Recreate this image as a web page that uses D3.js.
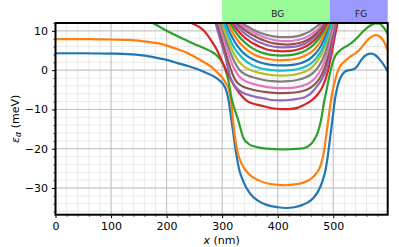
<!DOCTYPE html>
<html><head><meta charset="utf-8">
<script src="https://cdn.jsdelivr.net/npm/d3@7/dist/d3.min.js"></script>
<style>
html,body{margin:0;padding:0;background:#fff;}
svg{display:block;font-family:"DejaVu Sans",sans-serif;}
</style></head>
<body><svg id="c" width="399" height="247"></svg>
<script>
// ---- data ----
const xTicks = [0, 100, 200, 300, 400, 500];
const yTicks = [-30, -20, -10, 0, 10];
const xDomain = [0, 598];
const yDomain = [-36.8, 12];
const regionNames = ["BG", "FG"];
const regionStart = [300, 494];
const regionEnd = [494, 598];
const regionLabelX = [400, 550];
const regionColors = ["#98fb98", "#9999ff"];
const seriesColors = ["#1f77b4","#ff7f0e","#2ca02c","#d62728","#9467bd","#8c564b","#e377c2","#7f7f7f","#bcbd22","#17becf"];

const s01 = [[0,4.3],[50,4.3],[100,4.2],[130,4.1],[160,3.7],[180,3.2],[200,2.6],[220,1.8],[240,1.0],[255,0.3],[270,-0.6],[285,-1.6],[295,-2.6],[302,-3.6],[308,-5.5],[312,-8],[316,-12],[320,-16],[325,-21],[331,-25.5],[338,-28.3],[350,-31.4],[365,-33.3],[380,-34.3],[400,-34.9],[415,-35.1],[430,-34.9],[445,-34.3],[455,-33.6],[465,-32.4],[473,-30.8],[480,-28.5],[486,-25.5],[491,-21],[495,-16.5],[499,-12],[503,-7.5],[508,-4],[514,-1.6],[520,-0.5],[528,0],[536,0.2],[542,0.8],[551,2.7],[560,3.9],[568,4.2],[576,3.8],[587,2.1],[598,-0.3]];
const s02 = [[0,7.9],[60,7.9],[100,7.8],[134,7.7],[160,7.3],[195,6.5],[220,5.3],[240,4.2],[254,3.1],[270,1.8],[280,0.9],[290,-0.4],[300,-1.9],[307,-3.4],[312,-5],[316,-8],[319,-12],[323,-17],[328,-21],[335,-23.8],[350,-26.7],[365,-28],[380,-28.8],[400,-29.2],[415,-29.3],[430,-29.1],[445,-28.7],[455,-28.1],[465,-27],[472,-25.8],[478,-24],[483,-21],[487,-17],[491,-12.7],[495,-8.5],[500,-4.5],[506,-1.2],[512,0.9],[521,2.3],[530,3.4],[540,4.3],[550,5.6],[560,7.4],[570,8.6],[578,8.9],[587,8.1],[593,6.8],[598,5]];
const s03 = [[0,13.6],[100,13.3],[150,12.8],[175,12.0],[195,10.4],[220,8.6],[254,6.4],[278,4.9],[290,3.8],[300,2.0],[306,0],[311,-2.5],[317,-7.2],[323,-10.2],[329,-12.8],[338,-17.2],[348,-18.8],[360,-19.5],[380,-20],[410,-20.2],[440,-20],[452,-19.6],[460,-18.8],[467,-17.4],[473,-15.5],[478,-12.7],[483,-8.5],[488,-5],[493,-1.5],[498,1.5],[504,3.7],[512,5.0],[520,5.8],[530,6.6],[542,8.1],[554,9.9],[566,11.3],[576,11.9],[584,11.8],[591,10.8],[598,9.3]];
const s04 = [[0,16],[200,14.5],[245,12],[266,10.2],[280,7.6],[290,5.3],[300,2.2],[310,-0.8],[320,-3.6],[332,-6],[345,-7.9],[360,-8.7],[375,-9.2],[390,-9.7],[405,-9.9],[420,-9.9],[435,-9.6],[448,-8.8],[460,-7.8],[472,-6.2],[482,-3.8],[490,-0.5],[496,3.5],[502,8],[507,11.5],[512,15]];
const s05 = [[284,14],[288,12],[296,8],[305,3.8],[314,-1.5],[322,-3.8],[332,-5.3],[345,-6.2],[360,-6.8],[375,-7.2],[390,-7.6],[405,-7.7],[420,-7.6],[435,-7.3],[449,-6.9],[462,-5.6],[472,-3.9],[480,-2.2],[487,0],[493,3.5],[499,7.5],[504,11.4],[508,14]];
const s06 = [[287,14],[291,12],[299,8],[308,3.6],[316,0],[325,-2.8],[335,-4.0],[350,-4.8],[365,-5.3],[380,-5.6],[400,-5.85],[420,-5.8],[440,-5.5],[455,-4.8],[466,-3.7],[475,-2.2],[483,0],[490,3.3],[496,7.2],[501,10.8],[505,14]];
const s07 = [[290,14],[294,12],[302,8.3],[311,4.2],[320,0.8],[330,-1.5],[342,-2.8],[356,-3.5],[370,-4.0],[385,-4.4],[400,-4.6],[418,-4.6],[436,-4.3],[452,-3.6],[464,-2.5],[474,-0.8],[482,1.4],[489,4.4],[495,8],[500,11],[504,14]];
const s08 = [[293,14],[297,12],[305,8.4],[314,4.8],[323,1.9],[333,-0.2],[345,-1.3],[360,-2.0],[375,-2.5],[390,-2.8],[405,-2.9],[420,-2.8],[435,-2.5],[450,-1.9],[462,-0.9],[472,0.6],[480,2.5],[487,5],[493,8.3],[498,11.3],[502,14]];
const s09 = [[296,14],[300,12],[308,8.6],[317,5.4],[326,3],[336,1.3],[348,0.2],[362,-0.5],[378,-1.0],[393,-1.3],[408,-1.4],[423,-1.3],[438,-0.9],[452,-0.2],[463,0.9],[472,2.4],[480,4.3],[487,6.8],[493,9.6],[497,12],[501,14]];
const s10 = [[299,14],[303,12],[311,8.9],[320,6.1],[330,4.1],[340,2.6],[352,1.4],[366,0.6],[380,0.2],[395,-0.05],[410,-0.1],[425,0],[440,0.4],[453,1.1],[464,2.2],[473,3.7],[481,5.6],[488,8],[493,10.4],[496,12],[500,14]];
const s11 = [[303,14],[307,12],[315,9.2],[324,6.9],[334,5],[344,3.7],[356,2.7],[370,1.9],[385,1.4],[400,1.2],[415,1.2],[430,1.4],[444,1.9],[456,2.7],[466,3.9],[475,5.5],[482,7.4],[488,9.6],[493,12],[497,14]];
const s12 = [[307,14],[311,12],[319,9.6],[328,7.6],[338,6],[348,4.8],[360,3.8],[374,3.1],[388,2.7],[403,2.5],[418,2.6],[432,2.9],[446,3.5],[458,4.4],[468,5.6],[476,7.1],[483,8.9],[489,11],[492,12],[496,14]];
const s13 = [[311,14],[315,12],[323,10],[332,8.3],[342,6.9],[352,5.8],[364,4.9],[378,4.2],[392,3.8],[407,3.7],[422,3.8],[436,4.2],[449,4.9],[460,5.9],[469,7.1],[477,8.6],[484,10.3],[489,12],[493,14]];
const s14 = [[315,14],[319,12],[327,10.3],[336,8.9],[346,7.7],[357,6.7],[369,5.9],[382,5.2],[396,4.9],[410,4.8],[424,4.9],[438,5.3],[450,6],[461,7],[470,8.2],[478,9.6],[485,11.2],[488,12],[491,14]];
const s15 = [[319,14],[323,12],[331,10.6],[340,9.4],[350,8.4],[361,7.5],[373,6.8],[386,6.2],[400,5.85],[414,5.8],[428,5.9],[441,6.3],[453,7],[463,8],[472,9.2],[479,10.6],[485,12],[488,14]];
const s16 = [[323,14],[327,12],[335,10.9],[344,9.9],[354,9],[365,8.2],[377,7.5],[390,6.9],[404,6.6],[418,6.5],[431,6.7],[444,7.1],[455,7.8],[465,8.8],[473,9.9],[480,11.1],[484,12],[487,14]];
const s17 = [[328,14],[332,12],[340,11.1],[349,10.2],[359,9.4],[370,8.7],[382,8.1],[395,7.6],[409,7.4],[423,7.4],[436,7.7],[448,8.2],[458,8.9],[467,9.8],[475,10.9],[480,12],[484,14]];
const s18 = [[333,14],[337,12],[346,11.1],[356,10.3],[367,9.6],[379,9],[392,8.6],[406,8.4],[420,8.4],[434,8.6],[446,9.1],[457,9.8],[466,10.7],[473,11.5],[477,12],[481,14]];
const series = [s01,s02,s03,s04,s05,s06,s07,s08,s09,s10,s11,s12,s13,s14,s15,s16,s17,s18];

// ---- layout ----
const m = {left: 55.5, right: 387.7, top: 23, bottom: 214.7};
const svg = d3.select("#c");
const x = d3.scaleLinear().domain(xDomain).range([m.left, m.right]);
const y = d3.scaleLinear().domain(yDomain).range([m.bottom, m.top]);

// regions above the plot
const reg = svg.append("g");
regionNames.forEach((n, i) => {
  reg.append("rect").attr("x", x(regionStart[i])).attr("y", 0)
    .attr("width", x(regionEnd[i]) - x(regionStart[i])).attr("height", m.top)
    .attr("fill", regionColors[i]);
  reg.append("text").attr("x", x(regionLabelX[i])).attr("y", 13.5)
    .attr("text-anchor", "middle").attr("dominant-baseline", "central")
    .attr("font-size", 9).attr("fill", "#222").text(n);
});

// grid
const xMinor = d3.range(0, 600, 20);
const yMinor = d3.range(-36, 13, 2);
const grid = svg.append("g");
grid.selectAll(".vx").data(xMinor).join("line")
  .attr("x1", d => x(d)).attr("x2", d => x(d)).attr("y1", m.top).attr("y2", m.bottom)
  .attr("stroke", "#e3e3e3").attr("stroke-width", 0.8);
grid.selectAll(".hy").data(yMinor).join("line")
  .attr("y1", d => y(d)).attr("y2", d => y(d)).attr("x1", m.left).attr("x2", m.right)
  .attr("stroke", "#e3e3e3").attr("stroke-width", 0.8);
grid.selectAll(".vX").data(xTicks).join("line")
  .attr("x1", d => x(d)).attr("x2", d => x(d)).attr("y1", m.top).attr("y2", m.bottom)
  .attr("stroke", "#c0c0c0").attr("stroke-width", 1);
grid.selectAll(".hY").data(yTicks).join("line")
  .attr("y1", d => y(d)).attr("y2", d => y(d)).attr("x1", m.left).attr("x2", m.right)
  .attr("stroke", "#c0c0c0").attr("stroke-width", 1);

// curves
svg.append("clipPath").attr("id", "clip").append("rect")
  .attr("x", m.left).attr("y", m.top).attr("width", m.right - m.left).attr("height", m.bottom - m.top);
const line = d3.line().x(d => x(d[0])).y(d => y(d[1])).curve(d3.curveMonotoneX);
const cg = svg.append("g").attr("clip-path", "url(#clip)");
series.forEach((s, i) => {
  cg.append("path").attr("d", line(s)).attr("fill", "none")
    .attr("stroke", seriesColors[i % 10]).attr("stroke-width", 2.2)
    .attr("stroke-linejoin", "round").attr("stroke-linecap", "butt");
});

// axes
const xAxis = d3.axisBottom(x).tickValues(xTicks).tickSize(3.5).tickPadding(4).tickFormat(d3.format("d"));
const yAxis = d3.axisLeft(y).tickValues(yTicks).tickSize(3.5).tickPadding(4).tickFormat(d => d < 0 ? "\u2212" + Math.abs(d) : d);
const xa = svg.append("g").attr("transform", `translate(0,${m.bottom})`).call(xAxis);
const ya = svg.append("g").attr("transform", `translate(${m.left},0)`).call(yAxis);
[xa, ya].forEach(a => {
  a.select(".domain").remove();
  a.selectAll("text").attr("font-size", 11).attr("font-family", "DejaVu Sans").attr("fill", "#000");
  a.selectAll("line").attr("stroke", "#000").attr("stroke-width", 1);
});
const xm = d3.axisBottom(x).tickValues(xMinor.filter(v => xTicks.indexOf(v) < 0)).tickSize(2).tickFormat("");
const ym = d3.axisLeft(y).tickValues(yMinor.filter(v => yTicks.indexOf(v) < 0)).tickSize(2).tickFormat("");
const xma = svg.append("g").attr("transform", `translate(0,${m.bottom})`).call(xm);
const yma = svg.append("g").attr("transform", `translate(${m.left},0)`).call(ym);
[xma, yma].forEach(a => { a.select(".domain").remove(); a.selectAll("line").attr("stroke", "#000").attr("stroke-width", 0.8); });

// frame
svg.append("rect").attr("x", m.left).attr("y", m.top).attr("width", m.right - m.left).attr("height", m.bottom - m.top)
  .attr("fill", "none").attr("stroke", "#000").attr("stroke-width", 2);

// axis labels
const xl = svg.append("text").attr("x", (m.left + m.right) / 2).attr("y", 244).attr("text-anchor", "middle")
  .attr("font-size", 11).attr("fill", "#000");
xl.append("tspan").attr("font-style", "italic").text("x");
xl.append("tspan").text(" (nm)");
const yl = svg.append("text").attr("transform", `translate(18.5,${(m.top + m.bottom) / 2}) rotate(-90)`)
  .attr("text-anchor", "middle").attr("font-size", 11).attr("fill", "#000");
yl.append("tspan").attr("font-style", "italic").text("\u03b5");
yl.append("tspan").attr("font-style", "italic").attr("font-size", 8).attr("dy", 2.5).text("\u03b1");
yl.append("tspan").attr("dy", -2.5).text(" (meV)");
</script></body></html>
